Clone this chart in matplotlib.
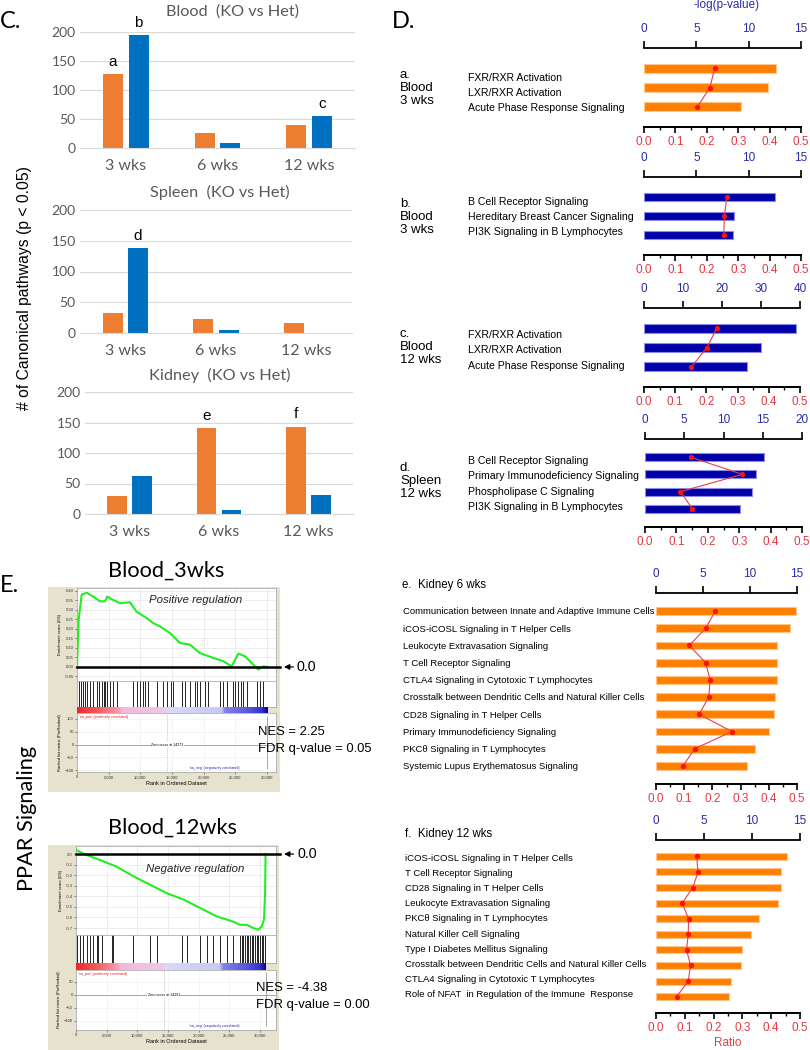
import matplotlib
matplotlib.use("Agg")
import matplotlib.pyplot as plt
import numpy as np
from matplotlib.patches import Rectangle
from matplotlib.colors import LinearSegmentedColormap

plt.rcParams["font.family"] = ["Liberation Sans", "DejaVu Sans"]

# ---------------- Panel C: number of canonical pathways ----------------
weeks = ["3 wks", "6 wks", "12 wks"]
blood_orange = [128, 26, 40]
blood_blue = [195, 8, 55]
spleen_orange = [32, 22, 17]
spleen_blue = [138, 5, 0]
kidney_orange = [29, 141, 143]
kidney_blue = [62, 6, 31]
blood_letters = [("o", 0, "a"), ("b", 0, "b"), ("b", 2, "c")]
spleen_letters = [("b", 0, "d")]
kidney_letters = [("o", 1, "e"), ("o", 2, "f")]

# ---------------- Panel D: IPA pathways ----------------
a_names = ["FXR/RXR Activation", "LXR/RXR Activation", "Acute Phase Response Signaling"]
a_logp = [12.6, 11.8, 9.3]
a_ratio = [0.225, 0.21, 0.17]

b_names = ["B Cell Receptor Signaling", "Hereditary Breast Cancer Signaling",
           "PI3K Signaling in B Lymphocytes"]
b_logp = [12.5, 8.6, 8.5]
b_ratio = [0.264, 0.256, 0.254]

c_names = ["FXR/RXR Activation", "LXR/RXR Activation", "Acute Phase Response Signaling"]
c_logp = [39.1, 29.9, 26.4]
c_ratio = [0.233, 0.202, 0.152]

d_names = ["B Cell Receptor Signaling", "Primary Immunodeficiency Signaling",
           "Phospholipase C Signaling", "PI3K Signaling in B Lymphocytes"]
d_logp = [15.2, 14.2, 13.6, 12.1]
d_ratio = [0.145, 0.31, 0.113, 0.151]

e_names = ["Communication between Innate and Adaptive Immune Cells",
           "iCOS-iCOSL Signaling in T Helper Cells",
           "Leukocyte Extravasation Signaling",
           "T Cell Receptor Signaling",
           "CTLA4 Signaling in Cytotoxic T Lymphocytes",
           "Crosstalk between Dendritic Cells and Natural Killer Cells",
           "CD28 Signaling in T Helper Cells",
           "Primary Immunodeficiency Signaling",
           "PKCθ Signaling in T Lymphocytes",
           "Systemic Lupus Erythematosus Signaling"]
e_logp = [14.9, 14.3, 12.9, 12.9, 12.9, 12.7, 12.5, 12.0, 10.5, 9.7]
e_ratio = [0.21, 0.176, 0.118, 0.176, 0.192, 0.187, 0.153, 0.269, 0.137, 0.096]

f_names = ["iCOS-iCOSL Signaling in T Helper Cells",
           "T Cell Receptor Signaling",
           "CD28 Signaling in T Helper Cells",
           "Leukocyte Extravasation Signaling",
           "PKCθ Signaling in T Lymphocytes",
           "Natural Killer Cell Signaling",
           "Type I Diabetes Mellitus Signaling",
           "Crosstalk between Dendritic Cells and Natural Killer Cells",
           "CTLA4 Signaling in Cytotoxic T Lymphocytes",
           "Role of NFAT  in Regulation of the Immune  Response"]
f_logp = [13.6, 13.0, 13.0, 12.7, 10.7, 9.9, 9.0, 8.85, 7.8, 7.6]
f_ratio = [0.141, 0.146, 0.128, 0.091, 0.113, 0.112, 0.106, 0.12, 0.112, 0.072]

# ---------------- Panel E: GSEA, PPAR signaling ----------------
es3_rank = [0, 260, 740, 1530, 2580, 3630, 4420, 4790, 5470, 6790, 8370, 9420, 11000,
            12050, 13100, 14680, 16260, 17840, 19420, 21530, 23100, 24420, 25470,
            26530, 27840, 28630, 29420, 30000]
es3_score = [0.0, 0.25, 0.38, 0.39, 0.37, 0.345, 0.345, 0.37, 0.356, 0.335, 0.34, 0.29,
             0.257, 0.23, 0.213, 0.178, 0.126, 0.117, 0.073, 0.047, 0.03, 0.003, 0.07,
             0.056, 0.012, -0.014, 0.003, 0.0]
hits3 = [370, 630, 1000, 1320, 1630, 2050, 2580, 3100, 3470, 3900, 4260, 4470, 4680,
         5210, 5740, 6260, 8900, 9420, 9950, 10370, 10740, 11260, 12580, 13630, 14160,
         14790, 15210, 16530, 17050, 17840, 18630, 18900, 19420, 20210, 20740, 22580,
         23100, 23630, 24680, 24950, 25470, 25840, 26260, 26790, 28370, 28900, 29420]

es12_rank = [0, 1740, 3910, 6630, 9350, 12070, 14780, 17500, 20220, 22940, 25650,
             26740, 27830, 28910, 29730, 30270, 30650, 30820, 30900]
es12_score = [0.038, -0.01, -0.056, -0.12, -0.21, -0.29, -0.37, -0.43, -0.51, -0.59,
              -0.64, -0.67, -0.67, -0.70, -0.716, -0.684, -0.62, -0.37, 0.0]
hits12 = [220, 650, 1200, 1850, 2280, 2830, 3370, 3640, 4190, 5820, 6090, 9350, 12070,
          13150, 17230, 18040, 20220, 21300, 22390, 23480, 24570, 25650, 26740, 27010,
          27280, 27550, 27830, 28100, 28370, 28640, 28910, 29190, 29460, 29730, 30000,
          30270, 30540, 30820]

W, H = 810, 1050
fig = plt.figure(figsize=(W / 100, H / 100), dpi=100)


def px_ax(x0, y0, x1, y1):
    return fig.add_axes([x0 / W, 1 - y1 / H, (x1 - x0) / W, (y1 - y0) / H])


def px_text(x, y, s, **kw):
    return fig.text(x / W, 1 - y / H, s, **kw)


# ---------- C ----------
GREY = "#595959"


def count_chart(box, title, title_x, title_y, orange, blue, letters):
    ax = px_ax(*box)
    x = np.arange(len(weeks))
    ax.bar(x - 0.14, orange, 0.22, color="#ED7D31")
    ax.bar(x + 0.14, blue, 0.22, color="#0070C0")
    ax.set_xlim(-0.5, 2.5)
    ax.set_ylim(0, 200)
    ax.set_yticks(range(0, 201, 50))
    ax.set_xticks(x, weeks)
    ax.grid(axis="y", color="#D9D9D9", lw=0.8)
    ax.set_axisbelow(True)
    for s in ("top", "right", "left"):
        ax.spines[s].set_visible(False)
    ax.spines["bottom"].set_color("#D9D9D9")
    ax.tick_params(length=0, colors=GREY)
    ax.tick_params(axis="y", labelsize=10, pad=3)
    ax.tick_params(axis="x", labelsize=11.5, pad=8)
    for lab in ax.get_xticklabels() + ax.get_yticklabels():
        lab.set_family("Lato")
    px_text(title_x, title_y, title, ha="center", va="center", fontsize=11.7,
            color=GREY, family="Lato")
    for which, i, letter in letters:
        vals, off = (orange, -0.14) if which == "o" else (blue, 0.14)
        ax.text(i + off, vals[i] + 9, letter, ha="center", va="bottom", fontsize=11)


count_chart((80, 32, 355, 148), "Blood  (KO vs Het)", 232, 12, blood_orange, blood_blue, blood_letters)
count_chart((80, 210, 352, 333), "Spleen  (KO vs Het)", 220, 192, spleen_orange, spleen_blue, spleen_letters)
count_chart((85, 392, 353, 514), "Kidney  (KO vs Het)", 220, 375, kidney_orange, kidney_blue, kidney_letters)
px_text(25, 288, "# of Canonical pathways (p < 0.05)", rotation=90, ha="center",
        va="center", fontsize=11.3)
px_text(0, 21, "C.", ha="left", va="center", fontsize=17, family="Lato")
px_text(392, 21, "D.", ha="left", va="center", fontsize=17, family="Lato")
px_text(0, 586, "E.", ha="left", va="center", fontsize=17, family="Lato")

# ---------- D ----------
TOP_BLUE = "#2B2BA6"
RED_TXT = "#E23A44"
BAR_COL = {"orange": ("#FF8000", "#FFC58A"), "blue": ("#0000A8", "#8C8CE8")}


def pathway_panel(box, names, logp, ratio, color, top_max, top_step, name_x,
                  name_size, name_step, name_shift):
    x0, y0, x1, y1 = box
    ax = px_ax(*box)
    ax2 = ax.twiny()  # ratio axis (bottom); twiny moves ax ticks, so set them after
    y = np.arange(len(names))
    face, edge = BAR_COL[color]
    ax.barh(y, logp, height=0.45, color=face, edgecolor=edge, lw=0.8)
    ax.set_xlim(0, top_max)
    ax.set_ylim(len(names) - 1 + 1.05, -1.05)
    ax.set_yticks([])
    ax.xaxis.tick_top()
    ax.set_xticks(np.arange(0, top_max + 0.1, top_step))
    ax.tick_params(axis="x", direction="out", length=5, width=1.2, pad=4.5,
                   labelsize=8.5, labelcolor=TOP_BLUE)
    for s in ("left", "right"):
        ax.spines[s].set_visible(False)
    for s in ("top", "bottom"):
        ax.spines[s].set_linewidth(1.3)

    ax2.set_xlim(0, 0.5)
    ax2.xaxis.tick_bottom()
    ax2.set_xticks(np.arange(0, 0.51, 0.1))
    ax2.set_xticks(np.arange(0.05, 0.5, 0.1), minor=True)
    ax2.set_xticklabels([f"{v:.1f}" for v in np.arange(0, 0.51, 0.1)])
    ax2.tick_params(axis="x", which="major", direction="out", length=4, width=1.2,
                    pad=2.5, labelsize=8.5, labelcolor=RED_TXT)
    ax2.tick_params(axis="x", which="minor", direction="out", length=2.5, width=1)
    for s in ("left", "right", "top"):
        ax2.spines[s].set_visible(False)
    ax2.spines["bottom"].set_linewidth(1.3)
    ax2.plot(ratio, y, color="#E8404A", lw=0.8, marker="o", ms=2.8,
             mfc="#FF1010", mec="#FF1010")
    # names sit on their own slightly tighter rows beside the bars
    tx = (name_x - x0) / (x1 - x0)
    mid = (len(names) - 1) / 2
    for yi, name in zip(y, names):
        ax.text(tx, mid + (yi - mid) * name_step + name_shift, name,
                transform=ax.get_yaxis_transform(), ha="left", va="center",
                fontsize=name_size)
    return ax


pathway_panel((644, 48, 801, 127), a_names, a_logp, a_ratio, "orange", 15, 5, 468, 7.6, 0.79, 0.28)
pathway_panel((644, 177, 801, 255), b_names, b_logp, b_ratio, "blue", 15, 5, 468, 7.6, 0.79, 0.05)
pathway_panel((644, 308, 800, 387), c_names, c_logp, c_ratio, "blue", 40, 10, 468, 7.6, 0.82, 0.15)
pathway_panel((645, 439, 802, 527), d_names, d_logp, d_ratio, "blue", 20, 5, 468, 7.6, 0.88, 0.06)
pathway_panel((656, 593, 797, 784), e_names, e_logp, e_ratio, "orange", 15, 5, 403, 6.8, 1.0, 0.05)
pathway_panel((656, 840, 800, 1013), f_names, f_logp, f_ratio, "orange", 15, 5, 405, 6.8, 0.97, 0.0)

px_text(727, 5, "-log(p-value)", ha="center", va="center", fontsize=8.5, color=TOP_BLUE)
px_text(728, 1043, "Ratio", ha="center", va="center", fontsize=8.5, color=RED_TXT)
for lab, ly in [("a.\nBlood\n3 wks", 88), ("b.\nBlood\n3 wks", 217),
                ("c.\nBlood\n12 wks", 347), ("d.\nSpleen\n12 wks", 481)]:
    px_text(400, ly, lab, ha="left", va="center", fontsize=9.5, linespacing=1.15)
px_text(402, 585, "e.  Kidney 6 wks", ha="left", va="center", fontsize=8.3)
px_text(405, 834, "f.  Kidney 12 wks", ha="left", va="center", fontsize=8.3)

# ---------- E ----------
BEIGE = "#E6E2CE"
gsea_cmap = LinearSegmentedColormap.from_list("rank", [
    (0.0, "#F02828"), (0.12, "#F46262"), (0.22, "#F7A0B0"), (0.235, "#F4B8DC"),
    (0.46, "#F0C8E8"), (0.475, "#DADAF8"), (0.76, "#C8C8F4"), (0.775, "#8282EC"),
    (0.88, "#6060E0"), (0.97, "#3434D0"), (1.0, "#0808A0")])
rank_ticks = np.arange(0, 30001, 5000)


def gsea(frame, x0, x1, ys, xmax, n_genes, es_rank, es_score, hits, es_lim, es_ticks,
         es_fmt, met_lim, met_ticks, zero_cross, reg_text, reg_y):
    fx0, fy0, fx1, fy1 = frame
    fig.add_artist(Rectangle((fx0 / W, 1 - fy1 / H), (fx1 - fx0) / W, (fy1 - fy0) / H,
                             transform=fig.transFigure, facecolor=BEIGE,
                             edgecolor="none", zorder=-5))
    es_t, es_b, hit_b, bar_b, met_b = ys
    tiny = dict(labelsize=3, colors="#333333", length=1.2, width=0.4, pad=1)

    ax = px_ax(x0, es_t, x1, es_b)
    ax.set_xlim(0, xmax)
    ax.set_ylim(*es_lim)
    ax.set_xticks(rank_ticks, [])
    ax.set_yticks(es_ticks, [es_fmt.format(v) for v in es_ticks])
    ax.tick_params(**tiny)
    ax.tick_params(axis="x", length=0)
    ax.grid(color="#E6E6E6", lw=0.5)
    for s in ax.spines.values():
        s.set_color("#A0A0A0")
        s.set_linewidth(0.5)
    ax.plot(es_rank, es_score, color="#22EE22", lw=1.5, zorder=3)
    ax.plot([0, 1.02], [0, 0], transform=ax.get_yaxis_transform(), color="k",
            lw=1.8, clip_on=False, zorder=4)
    ax.annotate("0.0", xy=(1.04, 0), xycoords=ax.get_yaxis_transform(),
                xytext=(1.105, 0), textcoords=ax.get_yaxis_transform(),
                ha="left", va="center", fontsize=10.3, annotation_clip=False,
                arrowprops=dict(arrowstyle="-|>", color="k", lw=0.9,
                                mutation_scale=8, shrinkA=0.5, shrinkB=0))
    ax.text(0.597, reg_y, reg_text, transform=ax.transAxes,
            ha="center", va="center", fontsize=8.2, style="italic", color="#222222")
    ax.set_ylabel("Enrichment score (ES)", fontsize=3, labelpad=2)

    hx = px_ax(x0, es_b, x1, hit_b)
    hx.set_xlim(0, xmax)
    hx.set_ylim(0, 1)
    hx.vlines(hits, 0, 1, color="k", lw=0.6)
    hx.set_xticks([])
    hx.set_yticks([])
    for s in hx.spines.values():
        s.set_color("#A0A0A0")
        s.set_linewidth(0.5)

    bx = px_ax(x0, hit_b, x1, bar_b)
    bx.imshow(np.linspace(0, 1, 300)[None, :], aspect="auto", cmap=gsea_cmap,
              extent=[0, n_genes, 0, 1])
    bx.set_xlim(0, xmax)
    bx.set_ylim(0, 1)
    bx.axis("off")

    mx = px_ax(x0, bar_b, x1, met_b)
    mx.set_xlim(0, xmax)
    mx.set_ylim(*met_lim)
    mx.set_xticks(rank_ticks, [f"{v:,}" for v in rank_ticks])
    mx.set_yticks(met_ticks)
    mx.tick_params(**tiny)
    mx.grid(color="#EEEEEE", lw=0.4)
    for s in mx.spines.values():
        s.set_color("#A0A0A0")
        s.set_linewidth(0.5)
    mx.axhline(0, color="#999999", lw=0.6)
    mx.axvline(zero_cross, color="#999999", lw=0.5, ls=":")
    mx.vlines(n_genes, met_lim[0] * 0.9, met_lim[1] * 0.9, color="#999999", lw=0.6)
    mx.text(zero_cross, 0, f"Zero cross at {zero_cross}", ha="center", va="center",
            fontsize=2.6, bbox=dict(facecolor="white", edgecolor="none", pad=0.5))
    mx.text(0.01, 0.97, "'na_pos' (positively correlated)", transform=mx.transAxes,
            ha="left", va="top", fontsize=2.6, color="#E02020")
    mx.text(0.69, 0.06, "'na_neg' (negatively correlated)", transform=mx.transAxes,
            ha="center", va="center", fontsize=2.6, color="#2020D0")
    mx.set_xlabel("Rank in Ordered Dataset", fontsize=4, labelpad=1.5)
    mx.set_ylabel("Ranked list metric (PreRanked)", fontsize=3, labelpad=2)


gsea((48, 587, 280, 792), 77, 276, (588, 681, 707, 713, 772), 31420, 30000,
     es3_rank, es3_score, hits3, (-0.074, 0.415),
     [0.40, 0.35, 0.30, 0.25, 0.20, 0.15, 0.10, 0.05, 0.00, -0.05], "{:.2f}",
     (-107.8, 123.5), [100, 50, 0, -50, -100], 14273, "Positive regulation", 0.87)
gsea((48, 845, 279, 1050), 76, 276, (846, 935, 963, 970, 1030), 32600, 30900,
     es12_rank, es12_score, hits12, (-0.766, 0.076),
     [0.0, -0.1, -0.2, -0.3, -0.4, -0.5, -0.6, -0.7], "{:.1f}",
     (-135, 96), [50, 0, -50, -100], 14291, "Negative regulation", 0.74)

px_text(166, 571, "Blood_3wks", ha="center", va="center", fontsize=15.7, family="Lato")
px_text(172, 828, "Blood_12wks", ha="center", va="center", fontsize=15.7, family="Lato")
px_text(27, 818, "PPAR Signaling", rotation=90, ha="center", va="center",
        fontsize=15.7, family="Lato")
px_text(258, 732, "NES = 2.25", ha="left", va="center", fontsize=9.4)
px_text(258, 749, "FDR q-value = 0.05", ha="left", va="center", fontsize=9.4)
px_text(256, 988, "NES = -4.38", ha="left", va="center", fontsize=9.4)
px_text(256, 1005, "FDR q-value = 0.00", ha="left", va="center", fontsize=9.4)

fig.savefig("out.png", dpi=100)
